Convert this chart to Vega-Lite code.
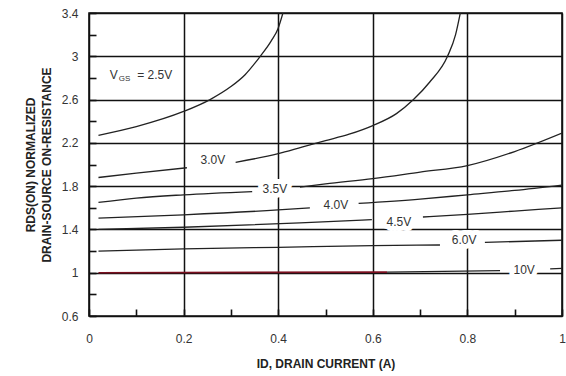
{
  "$schema": "https://vega.github.io/schema/vega-lite/v6.json",
  "width": 473,
  "height": 303,
  "autosize": {"type": "none"},
  "padding": {"left": 89, "top": 13, "right": 4, "bottom": 60},
  "background": "white",
  "config": {
    "view": {"stroke": "#111", "strokeWidth": 1.6},
    "font": "Liberation Sans"
  },
  "datasets": {
    "curves": [
      {"seg": "2.5a", "x": 0.02, "y": 2.27},
      {"seg": "2.5a", "x": 0.1, "y": 2.35},
      {"seg": "2.5a", "x": 0.2, "y": 2.49},
      {"seg": "2.5a", "x": 0.256, "y": 2.6},
      {"seg": "2.5a", "x": 0.3, "y": 2.72},
      {"seg": "2.5a", "x": 0.33, "y": 2.83},
      {"seg": "2.5a", "x": 0.362, "y": 3.0},
      {"seg": "2.5a", "x": 0.385, "y": 3.14},
      {"seg": "2.5a", "x": 0.4, "y": 3.26},
      {"seg": "2.5a", "x": 0.41, "y": 3.4},
      {"seg": "3.0a", "x": 0.02, "y": 1.88},
      {"seg": "3.0a", "x": 0.1, "y": 1.92},
      {"seg": "3.0a", "x": 0.207, "y": 1.97},
      {"seg": "3.0b", "x": 0.31, "y": 2.02},
      {"seg": "3.0b", "x": 0.4, "y": 2.1},
      {"seg": "3.0b", "x": 0.45, "y": 2.16},
      {"seg": "3.0b", "x": 0.5, "y": 2.22},
      {"seg": "3.0b", "x": 0.55, "y": 2.28},
      {"seg": "3.0b", "x": 0.6, "y": 2.36},
      {"seg": "3.0b", "x": 0.65, "y": 2.47},
      {"seg": "3.0b", "x": 0.686, "y": 2.6},
      {"seg": "3.0b", "x": 0.72, "y": 2.76},
      {"seg": "3.0b", "x": 0.758, "y": 3.0},
      {"seg": "3.0b", "x": 0.775, "y": 3.2},
      {"seg": "3.0b", "x": 0.785, "y": 3.4},
      {"seg": "3.5a", "x": 0.02, "y": 1.65},
      {"seg": "3.5a", "x": 0.1, "y": 1.69},
      {"seg": "3.5a", "x": 0.2, "y": 1.72},
      {"seg": "3.5a", "x": 0.345, "y": 1.75},
      {"seg": "3.5b", "x": 0.446, "y": 1.79},
      {"seg": "3.5b", "x": 0.5, "y": 1.82},
      {"seg": "3.5b", "x": 0.6, "y": 1.87},
      {"seg": "3.5b", "x": 0.7, "y": 1.93},
      {"seg": "3.5b", "x": 0.8, "y": 1.99},
      {"seg": "3.5b", "x": 0.9, "y": 2.12},
      {"seg": "3.5b", "x": 1.0, "y": 2.29},
      {"seg": "4.0a", "x": 0.02, "y": 1.505},
      {"seg": "4.0a", "x": 0.2, "y": 1.535},
      {"seg": "4.0a", "x": 0.4, "y": 1.58},
      {"seg": "4.0a", "x": 0.467, "y": 1.6},
      {"seg": "4.0b", "x": 0.57, "y": 1.64},
      {"seg": "4.0b", "x": 0.7, "y": 1.68},
      {"seg": "4.0b", "x": 0.8, "y": 1.72},
      {"seg": "4.0b", "x": 0.9, "y": 1.76},
      {"seg": "4.0b", "x": 1.0, "y": 1.81},
      {"seg": "4.5a", "x": 0.02, "y": 1.4},
      {"seg": "4.5a", "x": 0.2, "y": 1.42},
      {"seg": "4.5a", "x": 0.446, "y": 1.46},
      {"seg": "4.5a", "x": 0.598, "y": 1.49},
      {"seg": "4.5b", "x": 0.706, "y": 1.515},
      {"seg": "4.5b", "x": 0.8, "y": 1.54},
      {"seg": "4.5b", "x": 0.9, "y": 1.57},
      {"seg": "4.5b", "x": 1.0, "y": 1.6},
      {"seg": "6.0a", "x": 0.02, "y": 1.2},
      {"seg": "6.0a", "x": 0.2, "y": 1.22},
      {"seg": "6.0a", "x": 0.4, "y": 1.235},
      {"seg": "6.0a", "x": 0.6, "y": 1.25},
      {"seg": "6.0a", "x": 0.742, "y": 1.256},
      {"seg": "6.0b", "x": 0.837, "y": 1.28},
      {"seg": "6.0b", "x": 1.0, "y": 1.3},
      {"seg": "10a", "x": 0.02, "y": 1.0},
      {"seg": "10a", "x": 0.63, "y": 1.005},
      {"seg": "10b", "x": 0.63, "y": 1.005},
      {"seg": "10b", "x": 0.869, "y": 1.02},
      {"seg": "10c", "x": 0.975, "y": 1.035},
      {"seg": "10c", "x": 1.0, "y": 1.04}
    ],
    "labels": [
      {"label": "3.0V", "x": 0.262, "y": 2.04},
      {"label": "3.5V", "x": 0.393, "y": 1.77},
      {"label": "4.0V", "x": 0.522, "y": 1.63},
      {"label": "4.5V", "x": 0.655, "y": 1.47},
      {"label": "6.0V", "x": 0.793, "y": 1.3},
      {"label": "10V", "x": 0.92, "y": 1.025}
    ],
    "vgs": [
      {"label": "V", "x": 0.044, "y": 2.83},
      {"label": "= 2.5V", "x": 0.102, "y": 2.83}
    ],
    "vgssub": [
      {"label": "GS", "x": 0.063, "y": 2.83}
    ]
  },
  "encoding": {
    "x": {
      "field": "x", "type": "quantitative",
      "scale": {"domain": [0, 1], "nice": false, "zero": false},
      "axis": {
        "values": [0, 0.1, 0.2, 0.3, 0.4, 0.5, 0.6, 0.7, 0.8, 0.9, 1],
        "format": "~g",
        "labelExpr": "round(datum.value*10)%2==0 ? datum.label : ''",
        "title": "ID, DRAIN CURRENT (A)",
        "grid": true,
        "gridColor": "#111",
        "gridWidth": 1.5,
        "gridOpacity": {"condition": {"test": "round(datum.value*10)%2==0", "value": 1}, "value": 0},
        "ticks": true,
        "tickSize": -7,
        "tickWidth": 1.6,
        "tickColor": "#111",
        "domain": false,
        "labelFont": "Liberation Sans",
        "labelFontSize": 12,
        "labelColor": "#333",
        "labelPadding": 24,
        "labelOverlap": false,
        "labelFlush": false,
        "titleFont": "Liberation Sans",
        "titleFontSize": 12,
        "titleFontWeight": "bold",
        "titleColor": "#222",
        "titlePadding": 14
      }
    },
    "y": {
      "field": "y", "type": "quantitative",
      "scale": {"domain": [0.6, 3.4], "nice": false, "zero": false},
      "axis": {
        "values": [0.6, 0.8, 1, 1.2, 1.4, 1.6, 1.8, 2, 2.2, 2.4, 2.6, 2.8, 3, 3.2, 3.4],
        "format": "~g",
        "labelExpr": "round((datum.value-0.6)*5)%2==0 ? datum.label : ''",
        "title": ["RDS(ON) NORMALIZED", "DRAIN-SOURCE ON-RESISTANCE"],
        "grid": true,
        "gridColor": "#111",
        "gridWidth": 1.5,
        "gridOpacity": {"condition": {"test": "round((datum.value-0.6)*5)%2==0", "value": 1}, "value": 0},
        "ticks": true,
        "tickSize": -7,
        "tickWidth": 1.6,
        "tickColor": "#111",
        "domain": false,
        "labelFont": "Liberation Sans",
        "labelFontSize": 12,
        "labelColor": "#333",
        "labelPadding": 18,
        "labelOverlap": false,
        "labelFlush": false,
        "titleFont": "Liberation Sans",
        "titleFontSize": 12,
        "titleFontWeight": "bold",
        "titleColor": "#222",
        "titlePadding": 8,
        "titleLineHeight": 16
      }
    }
  },
  "layer": [
    {
      "data": {"name": "curves"},
      "transform": [{"filter": "datum.seg != '10a'"}],
      "mark": {"type": "line", "color": "#222", "strokeWidth": 1.3, "interpolate": "monotone", "clip": true},
      "encoding": {"detail": {"field": "seg"}, "order": {"field": "x"}}
    },
    {
      "data": {"name": "curves"},
      "transform": [{"filter": "datum.seg == '10a'"}],
      "mark": {"type": "line", "color": "#7a1020", "strokeWidth": 1.6, "clip": true},
      "encoding": {"detail": {"field": "seg"}, "order": {"field": "x"}}
    },
    {
      "data": {"name": "labels"},
      "mark": {"type": "text", "font": "Liberation Sans", "fontSize": 12, "stroke": "white", "strokeWidth": 10, "strokeJoin": "round", "color": "white", "align": "center", "baseline": "middle"},
      "encoding": {"text": {"field": "label"}}
    },
    {
      "data": {"name": "labels"},
      "mark": {"type": "text", "font": "Liberation Sans", "fontSize": 12, "color": "#333", "align": "center", "baseline": "middle"},
      "encoding": {"text": {"field": "label"}}
    },
    {
      "data": {"name": "vgs"},
      "mark": {"type": "text", "font": "Liberation Sans", "fontSize": 12, "stroke": "white", "strokeWidth": 10, "strokeJoin": "round", "color": "white", "align": "left", "baseline": "middle"},
      "encoding": {"text": {"field": "label"}}
    },
    {
      "data": {"name": "vgs"},
      "mark": {"type": "text", "font": "Liberation Sans", "fontSize": 12, "color": "#333", "align": "left", "baseline": "middle"},
      "encoding": {"text": {"field": "label"}}
    },
    {
      "data": {"name": "vgssub"},
      "mark": {"type": "text", "font": "Liberation Sans", "fontSize": 8, "color": "#333", "align": "left", "baseline": "middle", "dy": 4},
      "encoding": {"text": {"field": "label"}}
    }
  ]
}
